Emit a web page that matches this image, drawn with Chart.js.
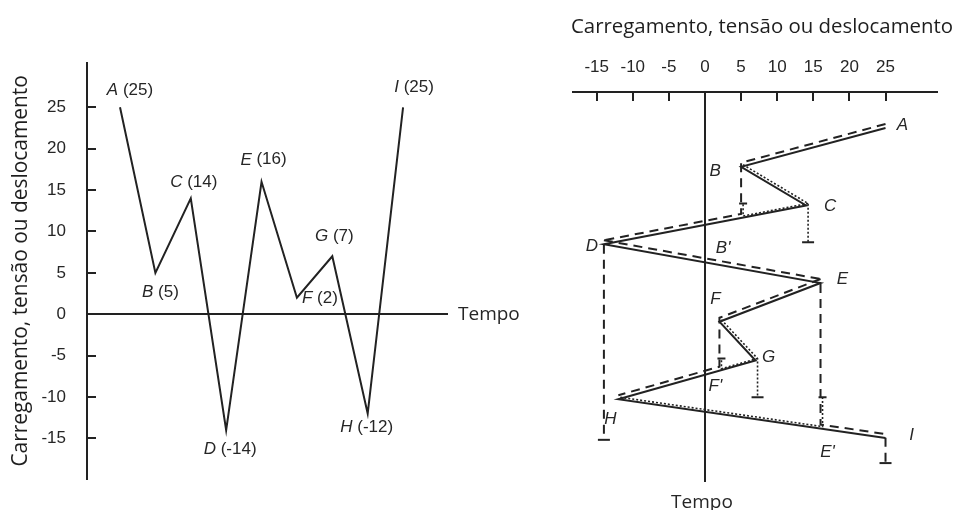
<!DOCTYPE html>
<html>
<head>
<meta charset="utf-8">
<script src="https://cdn.jsdelivr.net/npm/chart.js@4.4.1/dist/chart.umd.min.js"></script>
<style>
  html, body { margin: 0; padding: 0; background: #fff; }
  #wrap { position: relative; width: 957px; height: 510px; overflow: hidden; background: #fff; }
  #history { position: absolute; left: 0; top: 0; }
  #rainflow { position: absolute; left: 540px; top: 0; }
</style>
</head>
<body>
<div id="wrap">
  <canvas id="history" width="540" height="510"></canvas>
  <canvas id="rainflow" width="417" height="510"></canvas>
</div>
<script>
// Load history: reversal names and their loads, in time order
const pointNames = ['A', 'B', 'C', 'D', 'E', 'F', 'G', 'H', 'I'];
const loadValues = [25, 5, 14, -14, 16, 2, 7, -12, 25];
const loadTicks = [-15, -10, -5, 0, 5, 10, 15, 20, 25];

// Where a dripping flow lands on a later range: [name, range start reversal, load]
const landings = [["B'", 2, 5], ["F'", 6, 2], ["E'", 7, 16]];
// Time (in reversals) reached by flows dripping off a reversal
const dripEnds = { C: 3, G: 7, D: 8.15, I: 8.75 };

// Rainflow paths (names of reversals / landings) and how each one ends
const dashedFlows = [
  { path: ['A', 'B', "B'", 'D'], end: 'drip' },
  { path: ['D', 'E', "E'", 'I'], end: 'drip' },
  { path: ['E', 'F', "F'", 'H'], end: 'none' }
];
const dottedFlows = [
  { path: ['B', 'C'], end: 'drip' },
  { path: ['C', "B'"], end: 'stop' },
  { path: ['F', 'G'], end: 'drip' },
  { path: ['G', "F'"], end: 'stop' },
  { path: ['H', "E'"], end: 'stop' }
];

const TITLE = 'Carregamento, tensão ou deslocamento';
const TIME_LABEL = 'Tempo';

// ---- styles ----
const INK = '#222';
const TEXT = '#262626';
const NONE = 'rgba(0,0,0,0)';
const TICK_FONT = "'Liberation Sans', Arial, sans-serif";
const TITLE_FONT = "'Open Sans', sans-serif";

// label offsets in pixels from the labelled point
const historyLabelOffsets = {
  A: [10, -17], B: [5, 19], C: [3, -16], D: [4, 19], E: [2, -22],
  F: [23, 1], G: [2, -20], H: [-1, 14], I: [11, -20]
};
const rainflowLabelOffsets = {
  A: [17, -3], B: [-26, 5], C: [24, 1], D: [-12, 2], E: [22, -4], F: [-4, -22],
  G: [13, -3], H: [-8, 20], I: [26, -3], "B'": [-18, 30], "F'": [-4, 16], "E'": [7, 24]
};

// ---- helpers ----
function pointOf(name) {
  const i = pointNames.indexOf(name);
  if (i >= 0) return { x: loadValues[i], y: i };
  const [, s, v] = landings.find(l => l[0] === name);
  const t = s + (loadValues[s] - v) / (loadValues[s] - loadValues[s + 1]);
  return { x: v, y: t };
}

function flowData(flow) {
  const pts = flow.path.map(pointOf);
  const last = flow.path[flow.path.length - 1];
  if (flow.end === 'drip') {
    pts.push({ x: pointOf(last).x, y: dripEnds[last] });
  } else if (flow.end === 'stop') {
    pts.push({ x: pointOf(last).x, y: pointOf(flow.path[0]).y });
  }
  return pts;
}

function flowDataset(flow, dash, width, shift) {
  const data = flowData(flow);
  const radii = data.map((p, i) => (flow.end !== 'none' && i === data.length - 1) ? (flow.end === 'drip' ? 6 : 4) : 0);
  return {
    data, showLine: true, borderColor: INK, borderWidth: width, borderDash: dash,
    pointRadius: radii, pointStyle: 'line', pointBorderColor: INK, pointBorderWidth: 2,
    tension: 0, shift
  };
}

// shifts a dataset by a few pixels so parallel flows stay visible beside the path
const shiftPlugin = {
  id: 'shift',
  beforeDatasetDraw(chart, args) {
    const s = chart.data.datasets[args.index].shift;
    if (s) { chart.ctx.save(); chart.ctx.translate(s[0], s[1]); }
  },
  afterDatasetDraw(chart, args) {
    if (chart.data.datasets[args.index].shift) chart.ctx.restore();
  }
};

// tick marks drawn on the inner side of the axis line
const innerTicks = {
  id: 'innerTicks',
  afterDraw(chart, args, opts) {
    const s = chart.scales[opts.axis];
    const { ctx, chartArea } = chart;
    ctx.save();
    ctx.strokeStyle = INK;
    ctx.lineWidth = 2;
    s.ticks.forEach(t => {
      const p = Math.round(s.getPixelForValue(t.value));
      ctx.beginPath();
      if (s.isHorizontal()) {
        ctx.moveTo(p, chartArea.top);
        ctx.lineTo(p, chartArea.top + opts.len);
      } else {
        ctx.moveTo(chartArea.left, p);
        ctx.lineTo(chartArea.left + opts.len, p);
      }
      ctx.stroke();
    });
    ctx.restore();
  }
};

// reversal labels: italic letter, optionally followed by the load in brackets
const reversalLabels = {
  id: 'reversalLabels',
  afterDatasetsDraw(chart, args, opts) {
    const { ctx } = chart;
    const xs = chart.scales.x, ys = chart.scales.y;
    ctx.save();
    ctx.fillStyle = TEXT;
    ctx.textBaseline = 'middle';
    opts.items.forEach(it => {
      const px = xs.getPixelForValue(it.x) + it.off[0];
      const py = ys.getPixelForValue(it.y) + it.off[1];
      const italic = `italic ${opts.size}px ${TICK_FONT}`;
      const upright = `${opts.size}px ${TICK_FONT}`;
      ctx.font = italic;
      const wl = ctx.measureText(it.letter).width;
      ctx.font = upright;
      const wr = it.value !== undefined ? ctx.measureText(' (' + it.value + ')').width : 0;
      const x0 = px - (wl + wr) / 2;
      ctx.textAlign = 'left';
      ctx.font = italic;
      ctx.fillText(it.letter, x0, py);
      if (it.value !== undefined) {
        ctx.font = upright;
        ctx.fillText(' (' + it.value + ')', x0 + wl, py);
      }
    });
    ctx.restore();
  }
};

// free text placed relative to the scales
const freeText = {
  id: 'freeText',
  afterDraw(chart, args, opts) {
    const { ctx, chartArea } = chart;
    ctx.save();
    ctx.fillStyle = TEXT;
    ctx.textBaseline = 'middle';
    ctx.font = `${opts.size}px ${TITLE_FONT}`;
    if (opts.where === 'right') {
      ctx.textAlign = 'left';
      ctx.fillText(TIME_LABEL, chartArea.right + 10, chart.scales.y.getPixelForValue(0));
    } else {
      ctx.textAlign = 'center';
      ctx.fillText(TIME_LABEL, chart.scales.x.getPixelForValue(0) - 3, chartArea.bottom + 21);
      // axis title, centred over the whole panel
      ctx.fillStyle = '#1e1e1e';
      ctx.font = `${opts.titleSize}px ${TITLE_FONT}`;
      ctx.fillText(TITLE, (chartArea.left + chart.width) / 2 - 3, 27);
    }
    ctx.restore();
  }
};

const zeroLine = c => (c.tick && c.tick.value === 0) ? INK : NONE;

// ---- load history ----
new Chart(document.getElementById('history'), {
  type: 'scatter',
  data: {
    datasets: [{
      data: loadValues.map((v, i) => ({ x: i, y: v })),
      showLine: true, borderColor: INK, borderWidth: 2, pointRadius: 0, tension: 0
    }]
  },
  options: {
    responsive: false, animation: false, events: [],
    layout: { padding: { left: 0, top: 63, right: 92, bottom: 20 } },
    plugins: {
      legend: { display: false }, tooltip: { enabled: false },
      innerTicks: { axis: 'y', len: 9 },
      freeText: { where: 'right', size: 19 },
      reversalLabels: {
        size: 17,
        items: pointNames.map((n, i) => ({ letter: n, value: loadValues[i], x: i, y: loadValues[i], off: historyLabelOffsets[n] }))
      }
    },
    scales: {
      x: { type: 'linear', display: false, min: -0.933, max: 9.27 },
      y: {
        type: 'linear', min: -19.88, max: 30.35,
        afterBuildTicks: s => { s.ticks = loadTicks.map(v => ({ value: v })); },
        afterFit: s => { s.width = 87; },
        border: { display: true, color: INK, width: 2 },
        grid: { drawTicks: false, color: zeroLine, lineWidth: 2 },
        ticks: { padding: 21, color: TEXT, font: { family: TICK_FONT, size: 17 } },
        title: { display: true, text: TITLE, color: '#1e1e1e', font: { family: TITLE_FONT, size: 20.9 }, padding: { top: 9, bottom: 0 } }
      }
    }
  },
  plugins: [innerTicks, freeText, reversalLabels]
});

// ---- rainflow counting on the rotated history ----
const rainflowSets = [
  {
    data: loadValues.map((v, i) => ({ x: v, y: i })),
    showLine: true, borderColor: INK, borderWidth: 2, pointRadius: 0, tension: 0
  },
  ...dashedFlows.map(f => flowDataset(f, [9, 6], 2, [0, -4])),
  ...dottedFlows.map(f => flowDataset(f, [2, 2], 1.6, [2, -2]))
];

const rainflowItems = pointNames.map(n => ({ letter: n, ...pointOf(n), off: rainflowLabelOffsets[n] }))
  .concat(landings.map(l => ({ letter: l[0], ...pointOf(l[0]), off: rainflowLabelOffsets[l[0]] })));

new Chart(document.getElementById('rainflow'), {
  type: 'scatter',
  data: { datasets: rainflowSets },
  options: {
    responsive: false, animation: false, events: [],
    layout: { padding: { left: 33, top: 0, right: 20, bottom: 28 } },
    plugins: {
      legend: { display: false }, tooltip: { enabled: false },
      innerTicks: { axis: 'x', len: 9 },
      freeText: { where: 'bottom', size: 19, titleSize: 20.4 },
      reversalLabels: { size: 17, items: rainflowItems }
    },
    scales: {
      x: {
        type: 'linear', position: 'top', min: -18.28, max: 32.13,
        afterBuildTicks: s => { s.ticks = loadTicks.map(v => ({ value: v })); },
        afterFit: s => { s.height = 92; },
        border: { display: true, color: INK, width: 2 },
        grid: { drawTicks: false, color: zeroLine, lineWidth: 2 },
        ticks: { padding: 14, color: TEXT, font: { family: TICK_FONT, size: 17 }, maxRotation: 0 },
        title: { display: false }
      },
      y: { type: 'linear', display: false, reverse: true, min: -0.929, max: 9.135 }
    }
  },
  plugins: [shiftPlugin, innerTicks, freeText, reversalLabels]
});
</script>
</body>
</html>
